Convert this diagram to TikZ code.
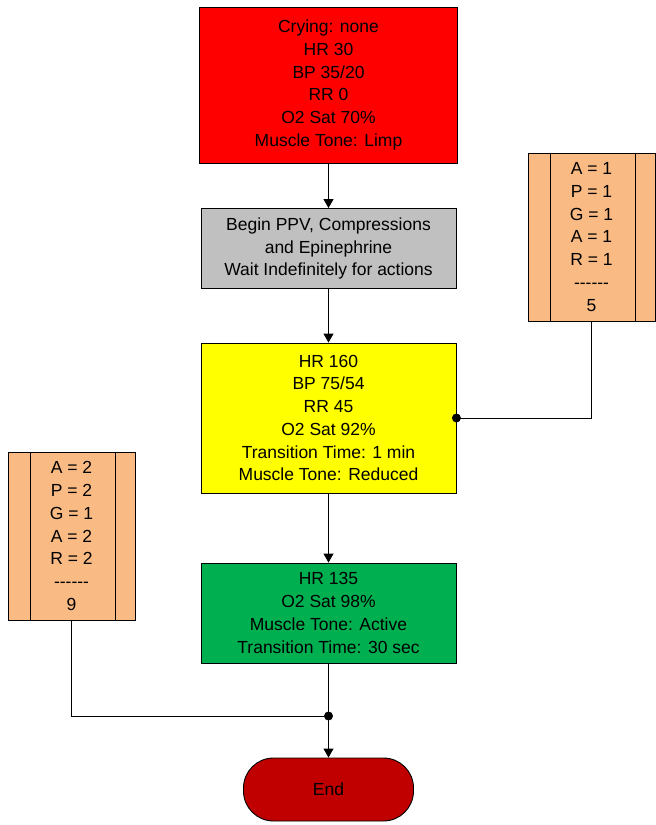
\documentclass[tikz,border=0pt]{standalone}
\usepackage{fontspec}
\setmainfont{Liberation Sans}
\usetikzlibrary{arrows.meta}

\definecolor{stred}{HTML}{FF0000}
\definecolor{stgray}{HTML}{C0C0C0}
\definecolor{styellow}{HTML}{FFFF00}
\definecolor{stgreen}{HTML}{00B050}
\definecolor{stpeach}{HTML}{F9BA84}
\definecolor{stend}{HTML}{C00000}

\newcommand{\apgarrule}{-{}-{}-{}-{}-{}-}

\begin{document}
\begin{tikzpicture}[x=1pt, y=-1pt,
    box/.style={draw=black, line width=0.9pt, align=center, inner sep=0pt,
                minimum width=255pt, font=\fontsize{17.5}{22.7}\selectfont},
    score/.style={box, fill=stpeach, minimum width=127pt, minimum height=168pt},
    flow/.style={-{Triangle[length=9pt, width=10pt]}, line width=0.9pt},
    link/.style={line width=0.9pt},
    dot/.style={fill=black}]
    \useasboundingbox (0,0) rectangle (656,825);
    % --- estados
    \node[box, fill=stred, minimum width=258pt, minimum height=156pt] (crit) at (328.5,85)
         {Crying: none\\HR 30\\BP 35/20\\RR 0\\O2 Sat 70\%\\Muscle Tone: Limp};
    \node[box, fill=stgray, minimum height=80pt] (act) at (328.5,248.5)
         {Begin PPV, Compressions\\and Epinephrine\\Wait Indefinitely for actions};
    \node[box, fill=styellow, minimum height=150pt] (rec) at (328.5,418)
         {HR 160\\BP 75/54\\RR 45\\O2 Sat 92\%\\Transition Time: 1 min\\Muscle Tone: Reduced};
    \node[box, fill=stgreen, minimum height=100pt] (stab) at (328.5,613)
         {HR 135\\O2 Sat 98\%\\Muscle Tone: Active\\Transition Time: 30 sec};
    \node[box, fill=stend, minimum width=170pt, minimum height=63pt,
          rounded corners=30pt] (fin) at (328.5,789.5) {End};
    % --- puntuaciones apgar
    \node[score] (apr) at (591.5,237)
         {A = 1\\P = 1\\G = 1\\A = 1\\R = 1\\\apgarrule\\5};
    \draw[link] ([xshift=23pt]apr.north west) -- ([xshift=23pt]apr.south west);
    \draw[link] ([xshift=-20pt]apr.north east) -- ([xshift=-20pt]apr.south east);
    \node[score] (apl) at (71.5,536)
         {A = 2\\P = 2\\G = 1\\A = 2\\R = 2\\\apgarrule\\9};
    \draw[link] ([xshift=23pt]apl.north west) -- ([xshift=23pt]apl.south west);
    \draw[link] ([xshift=-20pt]apl.north east) -- ([xshift=-20pt]apl.south east);
    % --- flechas
    \draw[flow] (crit) -- (act);
    \draw[flow] (act) -- (rec);
    \draw[flow] (rec) -- (stab);
    \coordinate (join) at (328.5,716);
    \draw[flow] (stab) -- (fin);
    \draw[link] (apr.south) |- (rec.east);
    \draw[link] (apl.south) |- (join);
    \fill[dot] (rec.east) circle (4.5pt);
    \fill[dot] (join) circle (4.5pt);
\end{tikzpicture}
\end{document}
